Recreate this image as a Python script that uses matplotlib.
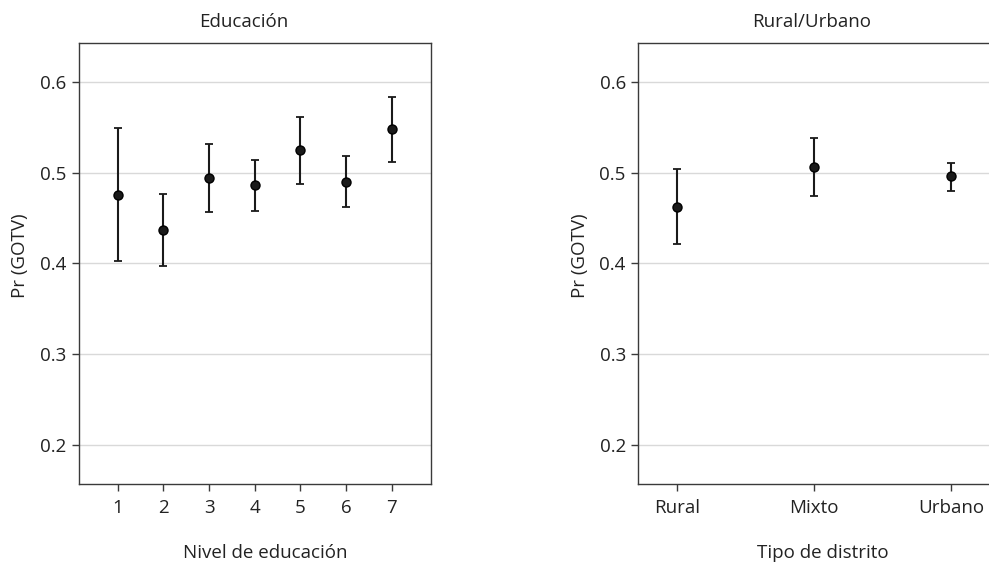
from matplotlib import pyplot as plt
import numpy as np

plt.rcParams['font.family'] = ['Open Sans', 'DejaVu Sans']

# Educación
edu_niveles = ['1', '2', '3', '4', '5', '6', '7']
edu_prob = [0.475, 0.437, 0.494, 0.486, 0.525, 0.490, 0.548]
edu_sup = [0.549, 0.477, 0.532, 0.514, 0.561, 0.518, 0.584]
edu_inf = [0.403, 0.397, 0.457, 0.458, 0.488, 0.462, 0.512]

# Rural/Urbano
dist_tipos = ['Rural', 'Mixto', 'Urbano']
dist_prob = [0.462, 0.506, 0.496]
dist_sup = [0.504, 0.538, 0.511]
dist_inf = [0.421, 0.474, 0.480]

y_ticks = [0.2, 0.3, 0.4, 0.5, 0.6]

W, H = 989, 562
fig = plt.figure(figsize=(W / 100, H / 100), dpi=100)
ax1 = fig.add_axes([79 / W, 78 / H, 352 / W, 441 / H])
ax2 = fig.add_axes([638.3 / W, 78 / H, 352 / W, 441 / H])

FS = 13.5
TXT = '#222222'


def panel(ax, labels, prob, sup, inf, xlim, xlab, xlab_x, ylab_x):
    x = np.arange(len(labels))
    prob = np.array(prob)
    err = [prob - np.array(inf), np.array(sup) - prob]
    ax.errorbar(x, prob, yerr=err, fmt='o', color='#1a1a1a', ecolor='#1a1a1a',
                markersize=6.5, elinewidth=1.5, capsize=3, capthick=1.3,
                markeredgecolor='#000000', zorder=3)
    ax.set_xticks(x)
    ax.set_xticklabels(labels)
    ax.set_xlim(*xlim)
    ax.set_ylim(0.157, 0.643)
    ax.set_yticks(y_ticks)
    ax.set_yticklabels(['%.1f' % v for v in y_ticks])
    ax.grid(axis='y', color='#d9d9d9', linewidth=1.0)
    ax.set_axisbelow(True)
    for s in ax.spines.values():
        s.set_color('#3a3a3a')
        s.set_linewidth(1.0)
    ax.tick_params(colors='#3a3a3a', labelcolor=TXT, labelsize=FS,
                   length=5, width=1, pad=4)
    ax.tick_params(axis='x', pad=6)
    ax.set_xlabel(xlab, fontsize=FS, color=TXT)
    ax.set_ylabel('Pr (GOTV)', fontsize=FS, color=TXT)
    ax.xaxis.set_label_coords(xlab_x, -0.135)
    ax.yaxis.set_label_coords(ylab_x, 0.517)


panel(ax1, edu_niveles, edu_prob, edu_sup, edu_inf, (-0.847, 6.86),
      'Nivel de educación', 0.53, -0.141)
panel(ax2, dist_tipos, dist_prob, dist_sup, dist_inf, (-0.285, 2.285),
      'Tipo de distrito', 0.525, -0.141)

fig.text(244 / W, 1 - 27 / H, 'Educación', ha='center', va='baseline',
         fontsize=FS, color=TXT)
fig.text(812 / W, 1 - 27 / H, 'Rural/Urbano', ha='center', va='baseline',
         fontsize=FS, color=TXT)

fig.savefig('out.png', dpi=100)
